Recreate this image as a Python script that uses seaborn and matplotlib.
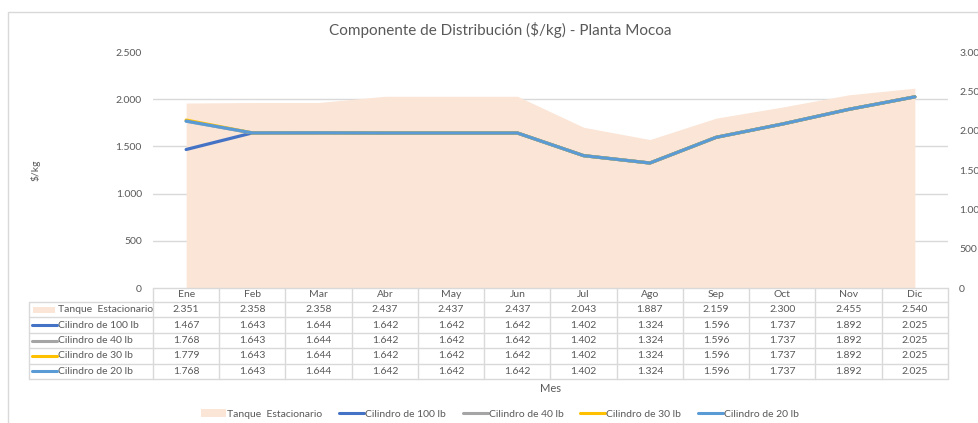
import numpy as np
import pandas as pd
import matplotlib
matplotlib.use("Agg")
import matplotlib.pyplot as plt
import matplotlib.transforms as mtransforms
from matplotlib.lines import Line2D
from matplotlib.patches import Patch, Rectangle
from matplotlib.ticker import FuncFormatter, MultipleLocator
import seaborn as sns

# ---- data ($/kg per month) ----
months = ["Ene", "Feb", "Mar", "Abr", "May", "Jun",
          "Jul", "Ago", "Sep", "Oct", "Nov", "Dic"]
tanque = [2351, 2358, 2358, 2437, 2437, 2437, 2043, 1887, 2159, 2300, 2455, 2540]
cil_100 = [1467, 1643, 1644, 1642, 1642, 1642, 1402, 1324, 1596, 1737, 1892, 2025]
cil_40 = [1768, 1643, 1644, 1642, 1642, 1642, 1402, 1324, 1596, 1737, 1892, 2025]
cil_30 = [1779, 1643, 1644, 1642, 1642, 1642, 1402, 1324, 1596, 1737, 1892, 2025]
cil_20 = [1768, 1643, 1644, 1642, 1642, 1642, 1402, 1324, 1596, 1737, 1892, 2025]

area_name = "Tanque  Estacionario"
line_names = ["Cilindro de 100 lb", "Cilindro de 40 lb",
              "Cilindro de 30 lb", "Cilindro de 20 lb"]
line_values = [cil_100, cil_40, cil_30, cil_20]
line_colors = ["#4472C4", "#A5A5A5", "#FFC000", "#5B9BD5"]
area_color = "#FBE5D6"
text_color = "#595959"
grid_color = "#D9D9D9"

sns.set_theme(style="white")
plt.rcParams["font.family"] = ["Lato", "DejaVu Sans"]

x = np.arange(len(months))
long_df = pd.DataFrame({
    "pos": np.tile(x, len(line_names)),
    "valor": np.concatenate(line_values),
    "serie": np.repeat(line_names, len(months)),
})

W, H = 979, 423
fig = plt.figure(figsize=(W / 100, H / 100), dpi=100)
ax_l, ax_r, ax_b, ax_t = 153, 948, 288, 52
ax = fig.add_axes([ax_l / W, 1 - ax_b / H, (ax_r - ax_l) / W, (ax_b - ax_t) / H])
ax2 = ax.twinx()

# area series on the secondary axis, drawn underneath
ax2.fill_between(x, tanque, color=area_color, linewidth=0, zorder=1)
ax2.set_ylim(0, 3000)
ax2.yaxis.set_major_locator(MultipleLocator(500))
# gridlines follow the primary scale (every 500 on 0-2500 -> every 600 on 0-3000)
ax2.yaxis.set_minor_locator(MultipleLocator(600))
ax2.set_axisbelow(True)
ax2.grid(which="minor", axis="y", color=grid_color, linewidth=1)
ax2.grid(which="major", visible=False)

# cylinder lines on the primary axis, on top
ax.set_zorder(ax2.get_zorder() + 1)
ax.patch.set_visible(False)
sns.lineplot(data=long_df, x="pos", y="valor", hue="serie", hue_order=line_names,
             palette=line_colors, linewidth=2.3, ax=ax, legend=False)
ax.set_ylim(0, 2500)
ax.set_xlim(-0.5, len(months) - 0.5)
ax.yaxis.set_major_locator(MultipleLocator(500))
ax.grid(False)
ax.set_xlabel("")
ax.set_ylabel("")

fmt = FuncFormatter(lambda v, p: f"{v:,.0f}".replace(",", "."))
ax.yaxis.set_major_formatter(fmt)
ax2.yaxis.set_major_formatter(fmt)
for a in (ax, ax2):
    for s in a.spines.values():
        s.set_visible(False)
    a.tick_params(axis="y", which="both", length=0, labelsize=7.5,
                  labelcolor=text_color, pad=8)
ax.set_xticks(x)
ax.set_xticklabels(months)
ax.tick_params(axis="x", length=0, labelsize=7.5, labelcolor=text_color, pad=1.5)

ax.text(-0.148, 0.5, "$/kg", transform=ax.transAxes, rotation=90,
        ha="center", va="center", fontsize=7.5, color=text_color)

# ---- data table under the plot ----
tr = mtransforms.blended_transform_factory(ax.transData, ax.transAxes)
col_w = (ax_r - ax_l) / len(months)
header_h = 14 / (ax_b - ax_t)
row_h = 15.4 / (ax_b - ax_t)
label_left = -0.5 - (ax_l - 29) / col_w
x0, x1 = -0.5, len(months) - 0.5
n_rows = 1 + len(line_names)
table_bottom = -header_h - n_rows * row_h


def tline(xs, ys):
    ax.add_line(Line2D(xs, ys, transform=tr, color=grid_color, linewidth=1,
                       clip_on=False, zorder=5))


tline([x0, x1], [0, 0])
for i in range(n_rows + 1):
    yy = -header_h - i * row_h
    tline([label_left, x1], [yy, yy])
for k in range(len(months) + 1):
    tline([x0 + k, x0 + k], [0, table_bottom])
tline([label_left, label_left], [-header_h, table_bottom])

rows = [(area_name, tanque, area_color, "patch")] + \
       [(n, v, c, "line") for n, v, c in zip(line_names, line_values, line_colors)]
key_x0 = -0.5 - (ax_l - 32) / col_w
key_x1 = -0.5 - (ax_l - 57) / col_w
txt_x = -0.5 - (ax_l - 58) / col_w
for i, (name, vals, color, kind) in enumerate(rows):
    yc = -header_h - (i + 0.5) * row_h
    if kind == "patch":
        ax.add_patch(Rectangle((key_x0 + 0.02, yc - 0.012), key_x1 - key_x0 - 0.05, 0.024,
                               transform=tr, facecolor=color, edgecolor="none",
                               clip_on=False, zorder=5))
    else:
        ax.add_line(Line2D([key_x0, key_x1], [yc, yc], transform=tr, color=color,
                           linewidth=2.2, clip_on=False, zorder=5))
    ax.text(txt_x, yc, name, transform=tr, ha="left", va="center",
            fontsize=7.5, color=text_color)
    for j, v in enumerate(vals):
        ax.text(x[j], yc, f"{v:,.0f}".replace(",", "."), transform=tr,
                ha="center", va="center", fontsize=7.5, color=text_color)

ax.text(0.5, (ax_b - 388) / (ax_b - ax_t), "Mes", transform=ax.transAxes,
        ha="center", va="center", fontsize=8, color=text_color)

# ---- title, legend, chart frame ----
fig.text(500 / W, 1 - 30 / H, "Componente de Distribución ($/kg) - Planta Mocoa",
         ha="center", va="center", fontsize=11, color=text_color)

handles = [Patch(facecolor=area_color, edgecolor="none")] + \
          [Line2D([], [], color=c, linewidth=2.2) for c in line_colors]
labels = [area_name] + line_names
fig.legend(handles, labels, loc="center", bbox_to_anchor=(500 / W, 1 - 414 / H),
           ncol=5, frameon=False, fontsize=7.5, handlelength=2.4,
           handletextpad=0.1, columnspacing=1.6, labelcolor=text_color)

fig.add_artist(Rectangle((8 / W, -0.05), 1.2, 1 - 12 / H + 0.05,
                         transform=fig.transFigure, fill=False,
                         edgecolor=grid_color, linewidth=1))

fig.savefig("out.png", dpi=100, facecolor="white")
